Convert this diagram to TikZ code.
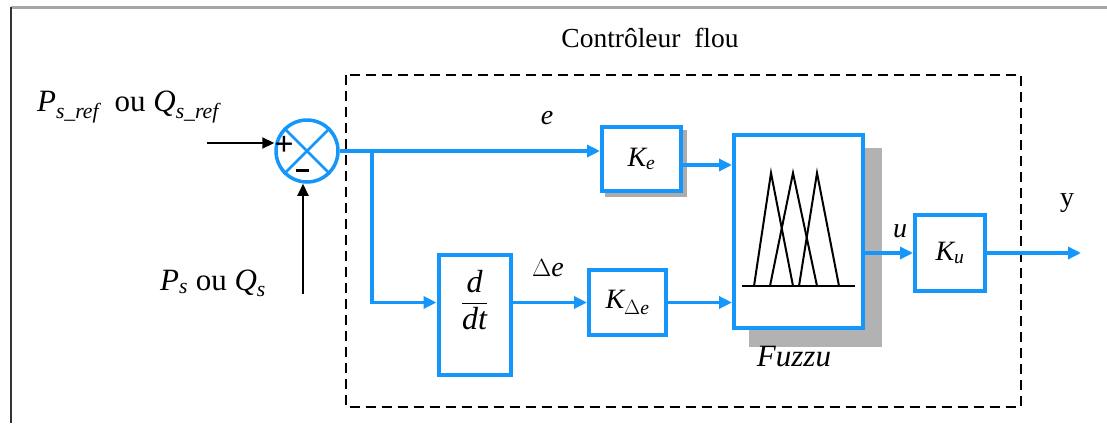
\documentclass[tikz,border=0pt]{standalone}
\usepackage{amsmath}
\usepackage{fontspec}
\setmainfont{Liberation Serif}
\usetikzlibrary{arrows.meta}
\definecolor{blu}{RGB}{20,150,250}
\newcommand{\vi}[1]{\textit{#1}}
\tikzset{
  bbox/.style={draw=blu, line width=4pt, fill=white, inner sep=0pt, font=\fontsize{28}{32}\selectfont},
  bline/.style={draw=blu, line width=3.5pt},
  barrow/.style={bline, -{Triangle[length=13pt,width=12pt]}},
  karrow/.style={draw=black, line width=2.2pt, -{Triangle[length=12pt,width=11pt]}},
  lbl/.style={inner sep=0pt, font=\fontsize{28}{32}\selectfont},
  inlbl/.style={inner sep=0pt, font=\fontsize{31}{35}\selectfont},
}
\begin{document}
\begin{tikzpicture}[x=1pt,y=-1pt]
\useasboundingbox (0,0) rectangle (1107,423);
% outer frame
\draw[gray!70, line width=3pt] (11,7) -- (1107,7);
\draw[black!80, line width=1.3pt] (11,7) -- (11,423);
% title
\node[lbl, font=\fontsize{27.5}{31}\selectfont] (title) at (650,38) {Contrôleur\ \ flou};
% dashed controller box
\draw[line width=2.8pt, dash pattern=on 10pt off 6pt] (346,75) rectangle (1021,407);
% sum
\node[circle, draw=blu, line width=3.5pt, minimum size=62pt, inner sep=0pt, fill=white] (sum) at (307,151) {};
\draw[blu, line width=2.5pt] (sum.45) -- (sum.225) (sum.135) -- (sum.315);
\node[inner sep=0pt, font=\fontsize{34}{34}\selectfont\bfseries] (plus) at (284,146) {+};
\node[inner sep=0pt] (minus) at (302,170) {\rule{13pt}{3pt}};
% inputs
\node[inlbl] (ref) at (128,107) {$\vi{P}_{\vi{s\_ref}}$\ \ ou\ $\vi{Q}_{\vi{s\_ref}}$};
\node[inlbl] (meas) at (213,283) {$\vi{P}_{\vi{s}}$ ou $\vi{Q}_{\vi{s}}$};
\coordinate (in1) at (207,143);
\coordinate (in2) at (303,294);
\draw[karrow] (in1) -- (in1 -| sum.west);
\draw[karrow] (in2) -- (sum.south -| in2);
% blocks
\fill[gray!65] (605,130) rectangle (687,197);
\node[bbox, minimum width=79pt, minimum height=64pt] (ke) at (641.5,159) {$\vi{K}_{\vi{e}}$};
\node[bbox, minimum width=72pt, minimum height=120pt] (dt) at (474.5,315) {};
\node[inner sep=0pt, font=\fontsize{32}{36}\selectfont] (dtl) at (474.5,300) {$\dfrac{\vi{d}}{\vi{dt}}$};
\node[bbox, minimum width=77pt, minimum height=65pt] (kde) at (627.5,302.5) {$\vi{K}_{\Delta \vi{e}}$};
\fill[gray!60] (749,148) rectangle (882,347);
\node[bbox, minimum width=129pt, minimum height=193pt] (fz) at (798.5,231.5) {};
\node[bbox, minimum width=70pt, minimum height=76pt] (ku) at (950,253) {$\vi{K}_{\vi{u}}$};
% membership functions
\draw[line width=2pt] (742,286) -- (855,286);
\draw[line width=2pt, line join=miter] (754,286) -- (771,173) -- (793,286);
\draw[line width=2pt, line join=miter] (770,286) -- (793,173) -- (817,286);
\draw[line width=2pt, line join=miter] (799,286) -- (817,173) -- (839,286);
\node[lbl, font=\fontsize{31}{35}\selectfont\itshape] (fzl) at (794,357) {Fuzzu};
% connectors
\coordinate (br) at (372,151);
\draw[barrow] (sum.east) -- (sum.east -| ke.west);
\draw[barrow] (br) |- (dt.west |- kde.center);
\draw[barrow] (dt.east |- kde.center) -- (kde.west);
\draw[barrow] (ke.east |- 0,165) -- (fz.west |- 0,165);
\draw[barrow] (kde.east) -- (kde.east -| fz.west);
\draw[barrow] (fz.east |- ku.center) -- (ku.west);
\coordinate (out) at (1081,253);
\draw[barrow] (ku.east) -- (out);
% signal labels
\node[lbl] (le) at (547,118) {\vi{e}};
\node[lbl] (lde) at (548,268) {$\Delta$\vi{e}};
\node[lbl] (lu) at (900,231) {\vi{u}};
\node[lbl] (ly) at (1067,203) {y};
\end{tikzpicture}
\end{document}
